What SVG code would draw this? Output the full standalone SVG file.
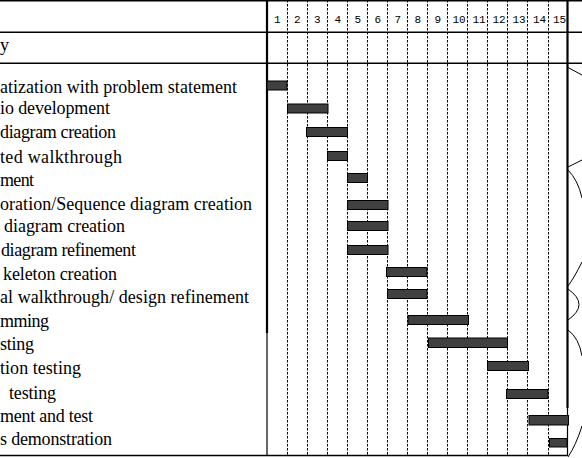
<svg xmlns="http://www.w3.org/2000/svg" width="582" height="458" viewBox="0 0 582 458">
<style>
.lbl{font-family:"Liberation Serif","Times New Roman",serif;font-size:18px;fill:#000}
.num{font-family:"Liberation Mono","Courier New",monospace;font-size:11px;fill:#000}
.bar{fill:#404040;stroke:#000;stroke-width:1}
.hl{stroke:#000;stroke-width:1.4;fill:none}
.col{stroke:#000;stroke-width:1;stroke-dasharray:2.5 1.5;fill:none}
.frag{stroke:#000;stroke-width:1;fill:none}
</style>
<rect width="582" height="458" fill="#fff"/>
<g id="grid">
  <line class="hl" x1="0" y1="0.7" x2="582" y2="0.7"/>
  <line class="hl" x1="0" y1="32.3" x2="582" y2="32.3"/>
  <line class="hl" x1="0" y1="63.3" x2="582" y2="63.3"/>
  <line class="hl" x1="0" y1="455.5" x2="567.5" y2="455.5"/>
  <line class="col" x1="287.5" y1="0" x2="287.5" y2="456"/>
  <line class="col" x1="307.5" y1="0" x2="307.5" y2="456"/>
  <line class="col" x1="327.5" y1="0" x2="327.5" y2="456"/>
  <line class="col" x1="347.5" y1="0" x2="347.5" y2="456"/>
  <line class="col" x1="367.5" y1="0" x2="367.5" y2="456"/>
  <line class="col" x1="387.5" y1="0" x2="387.5" y2="456"/>
  <line class="col" x1="407.5" y1="0" x2="407.5" y2="456"/>
  <line class="col" x1="427.5" y1="0" x2="427.5" y2="456"/>
  <line class="col" x1="447.5" y1="0" x2="447.5" y2="456"/>
  <line class="col" x1="467.5" y1="0" x2="467.5" y2="456"/>
  <line class="col" x1="487.5" y1="0" x2="487.5" y2="456"/>
  <line class="col" x1="507.5" y1="0" x2="507.5" y2="456"/>
  <line class="col" x1="527.5" y1="0" x2="527.5" y2="456"/>
  <line class="col" x1="548.5" y1="0" x2="548.5" y2="456"/>
  <line x1="267" y1="0" x2="267" y2="333" stroke="#000" stroke-width="2.2"/>
  <line x1="267" y1="333" x2="267" y2="456" stroke="#000" stroke-width="1.2"/>
  <line x1="567.5" y1="0" x2="567.5" y2="408" stroke="#000" stroke-width="2.2"/>
  <line x1="567.5" y1="408" x2="567.5" y2="456" stroke="#000" stroke-width="1.2"/>
</g>
<g id="weeks">
  <text class="num" x="274" y="23">1</text>
  <text class="num" x="294" y="23">2</text>
  <text class="num" x="314" y="23">3</text>
  <text class="num" x="334.5" y="23">4</text>
  <text class="num" x="354.5" y="23">5</text>
  <text class="num" x="374.5" y="23">6</text>
  <text class="num" x="394.5" y="23">7</text>
  <text class="num" x="414.5" y="23">8</text>
  <text class="num" x="434.5" y="23">9</text>
  <text class="num" x="452.5" y="23">10</text>
  <text class="num" x="472.5" y="23">11</text>
  <text class="num" x="492.5" y="23">12</text>
  <text class="num" x="512.5" y="23">13</text>
  <text class="num" x="533" y="23">14</text>
  <text class="num" x="553" y="23">15</text>
</g>
<g id="header"><text class="lbl" x="0" y="51">y</text></g>
<g id="task1"><text class="lbl" x="0" y="92.5" textLength="237">atization with problem statement</text><rect class="bar" x="267" y="81" width="20" height="9"/></g>
<g id="task2"><text class="lbl" x="0" y="114" textLength="110">io development</text><rect class="bar" x="287.5" y="104" width="40.5" height="9"/></g>
<g id="task3"><text class="lbl" x="0" y="138" textLength="116">diagram creation</text><rect class="bar" x="306.5" y="127.5" width="41" height="9"/></g>
<g id="task4"><text class="lbl" x="0" y="163" textLength="122">ted walkthrough</text><rect class="bar" x="327.5" y="151.5" width="20" height="9"/></g>
<g id="task5"><text class="lbl" x="0" y="186" textLength="34">ment</text><rect class="bar" x="347.5" y="173.5" width="20" height="9"/></g>
<g id="task6"><text class="lbl" x="0" y="209.5" textLength="252">oration/Sequence diagram creation</text><rect class="bar" x="347.5" y="200.5" width="40.5" height="9"/></g>
<g id="task7"><text class="lbl" x="4" y="232" textLength="121">diagram creation</text><rect class="bar" x="347.5" y="221.5" width="40.5" height="9"/></g>
<g id="task8"><text class="lbl" x="1" y="256" textLength="135">diagram refinement</text><rect class="bar" x="347.5" y="245.5" width="40.5" height="9"/></g>
<g id="task9"><text class="lbl" x="3" y="280" textLength="114">keleton creation</text><rect class="bar" x="386.5" y="267.5" width="40.5" height="9"/></g>
<g id="task10"><text class="lbl" x="0" y="302.5" textLength="249">al walkthrough/ design refinement</text><rect class="bar" x="387.5" y="289.5" width="39.5" height="9"/></g>
<g id="task11"><text class="lbl" x="0" y="327" textLength="49">mming</text><rect class="bar" x="408" y="315.5" width="60.5" height="9"/></g>
<g id="task12"><text class="lbl" x="0" y="350" textLength="34">sting</text><rect class="bar" x="428.5" y="338" width="79" height="9.5"/></g>
<g id="task13"><text class="lbl" x="0" y="373.5" textLength="81">tion testing</text><rect class="bar" x="487.5" y="361.5" width="41" height="9"/></g>
<g id="task14"><text class="lbl" x="9" y="398.5" textLength="47">testing</text><rect class="bar" x="506.5" y="389.5" width="41.5" height="9"/></g>
<g id="task15"><text class="lbl" x="0" y="422" textLength="93">ment and test</text><rect class="bar" x="529" y="415.5" width="39.5" height="9.5"/></g>
<g id="task16"><text class="lbl" x="0" y="445" textLength="112">s demonstration</text><rect class="bar" x="549.5" y="438.5" width="17.5" height="8.5"/></g>
<g id="edge-fragments">
  <path class="frag" d="M568,67.5 L582,75"/>
  <path class="frag" d="M582,160 L568,167"/>
  <path class="frag" d="M568,170 Q578,180 582,198"/>
  <path class="frag" d="M582,262 Q574,278 568,286"/>
  <path class="frag" d="M568,289 Q590,304.5 568,320"/>
  <path class="frag" d="M568,330 Q579,338 582,356"/>
  <path class="frag" d="M582,426 Q576,445 568,457"/>
</g>
</svg>
